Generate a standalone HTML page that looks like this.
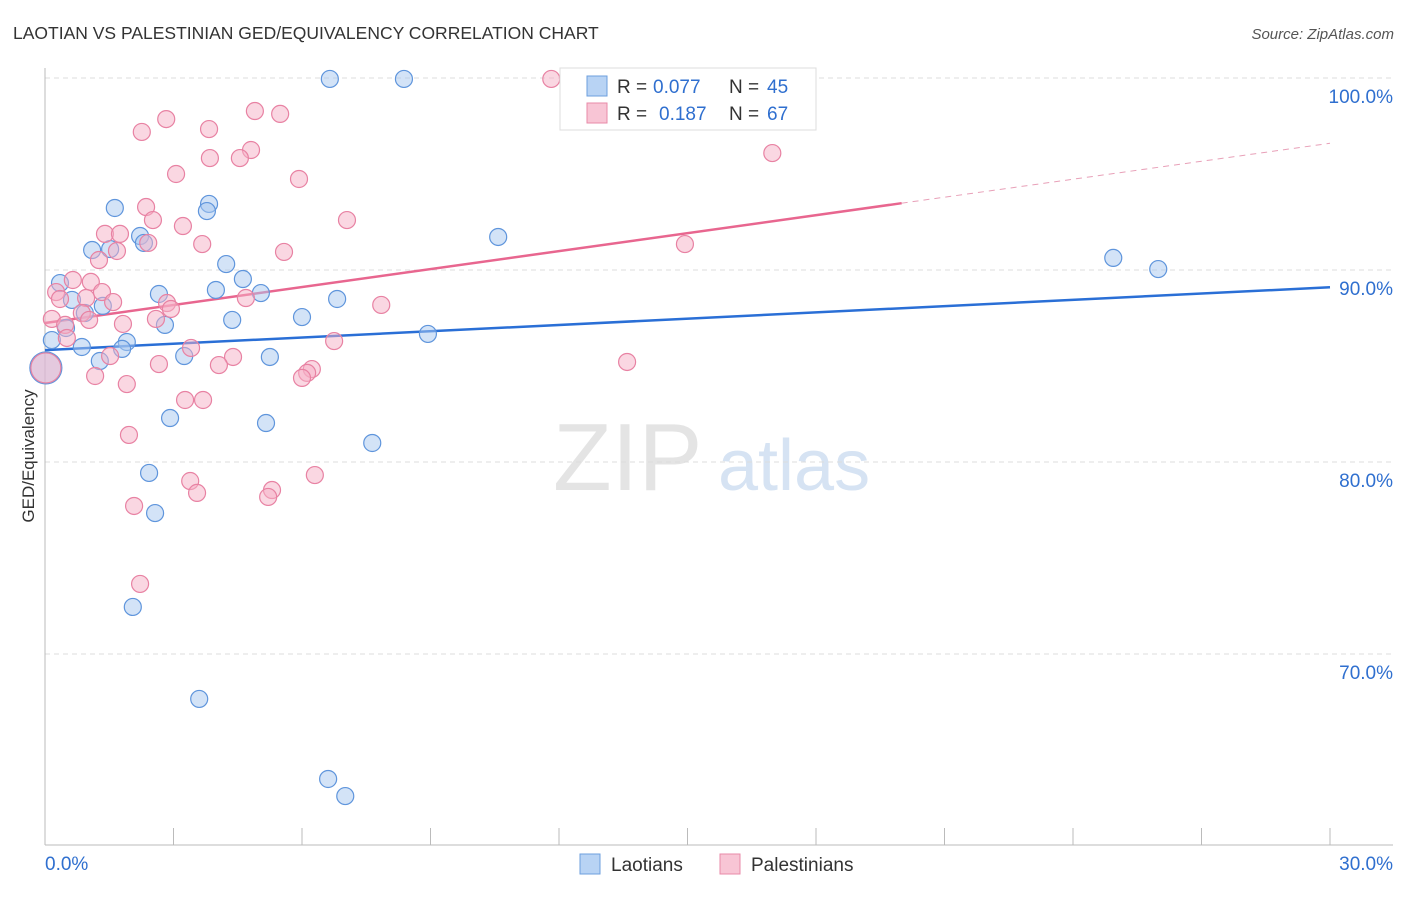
<!DOCTYPE html>
<html><head><meta charset="utf-8"><style>
body{margin:0;background:#fff;font-family:"Liberation Sans",sans-serif;}
svg text{font-family:"Liberation Sans",sans-serif;}
</style></head><body>
<svg id="chart" width="1406" height="892" xmlns="http://www.w3.org/2000/svg">
<text x="13" y="39" font-size="17.5" fill="#333">LAOTIAN VS PALESTINIAN GED/EQUIVALENCY CORRELATION CHART</text>
<text x="1394" y="39" font-size="15" fill="#555" text-anchor="end" font-style="italic">Source: ZipAtlas.com</text>
<text transform="translate(34,456) rotate(-90)" font-size="17" fill="#333" text-anchor="middle">GED/Equivalency</text>
<text x="553" y="490" font-size="96" fill="#e4e4e4" font-family="Liberation Serif">ZIP</text>
<text x="718" y="490" font-size="72" fill="#d6e3f3">atlas</text>
<g id="grid"></g><g id="axes"></g><g id="lines"></g><g id="dots"></g>
<g>
<rect x="560" y="68" width="256" height="62" fill="#fff" stroke="#ddd"/>
<rect x="587" y="76" width="20" height="20" fill="#b8d3f4" stroke="#6d9fde"/>
<rect x="587" y="103" width="20" height="20" fill="#f8c5d5" stroke="#e88aa8"/>
<text x="617" y="93" font-size="19" fill="#333">R =</text>
<text x="653" y="93" font-size="19" fill="#2f6fcf">0.077</text>
<text x="729" y="93" font-size="19" fill="#333">N =</text>
<text x="767" y="93" font-size="19" fill="#2f6fcf">45</text>
<text x="617" y="120" font-size="19" fill="#333">R =</text>
<text x="659" y="120" font-size="19" fill="#2f6fcf">0.187</text>
<text x="729" y="120" font-size="19" fill="#333">N =</text>
<text x="767" y="120" font-size="19" fill="#2f6fcf">67</text>
</g>
<g>
<rect x="580" y="854" width="20" height="20" fill="#b8d3f4" stroke="#6d9fde"/>
<text x="611" y="871" font-size="19" fill="#333">Laotians</text>
<rect x="720" y="854" width="20" height="20" fill="#f8c5d5" stroke="#e88aa8"/>
<text x="751" y="871" font-size="19" fill="#333">Palestinians</text>
</g>
</svg>
<script>
const yTicks=[100,90,80,70];
const yTickLabels=["100.0%","90.0%","80.0%","70.0%"];
const xTicks=[0,3,6,9,12,15,18,21,24,27,30];
const blueX=[6.65,8.38,1.63,3.83,3.78,2.22,2.31,1.10,1.52,10.58,4.23,4.62,0.35,3.99,2.66,5.04,0.63,1.35,0.93,6.82,6.00,4.37,2.80,0.49,0.16,8.94,0.86,1.91,1.80,3.25,5.25,1.28,0.02,2.92,5.16,7.64,2.43,2.57,2.05,3.60,6.61,7.01,24.94,25.99];
const blueY=[99.95,99.95,93.23,93.44,93.07,91.77,91.41,91.04,91.09,91.72,90.31,89.53,89.32,88.96,88.75,88.80,88.44,88.13,87.76,88.49,87.55,87.40,87.14,86.98,86.35,86.67,85.99,86.25,85.89,85.52,85.47,85.26,84.90,82.29,82.03,80.99,79.43,77.34,72.45,67.66,63.49,62.60,90.63,90.05];
const pinkX=[11.82,4.90,5.49,2.83,2.26,3.83,3.06,4.81,3.85,4.55,5.93,2.36,2.52,7.05,3.22,1.40,1.75,1.68,2.41,3.67,5.58,1.26,0.65,1.07,0.26,0.35,0.96,1.33,1.59,4.69,2.85,2.94,0.86,1.03,0.16,1.82,2.59,0.47,0.51,7.85,6.75,3.41,4.39,1.52,2.66,4.06,6.23,6.12,6.00,1.17,1.91,3.27,3.69,1.96,3.39,3.55,5.30,5.21,6.30,2.08,2.22,13.59,14.94,16.98,0.02];
const pinkY=[99.95,98.28,98.13,97.86,97.19,97.34,95.00,96.25,95.83,95.83,94.74,93.28,92.60,92.60,92.29,91.88,91.88,90.99,91.41,91.35,90.94,90.52,89.48,89.38,88.85,88.49,88.54,88.85,88.33,88.54,88.28,87.97,87.76,87.40,87.45,87.19,87.45,87.14,86.46,88.18,86.30,85.94,85.47,85.52,85.10,85.05,84.84,84.64,84.38,84.48,84.06,83.23,83.23,81.41,79.01,78.39,78.54,78.18,79.32,77.71,73.65,85.21,91.35,96.09,84.90];
const blueTrend=[85.83,89.1];
const pinkTrend=[87.24,96.6];
const pinkSolidEnd=20;
const NS="http://www.w3.org/2000/svg";
const X=v=>45+v/30*1285, Y=v=>78+(100-v)*19.2;
function mk(t,a,p){const e=document.createElementNS(NS,t);for(const k in a)e.setAttribute(k,a[k]);document.getElementById(p).appendChild(e);return e;}
yTicks.forEach((t,i)=>{
 const g=mk('line',{x1:45,x2:1393,y1:Y(t),y2:Y(t),stroke:'#dcdcdc','stroke-dasharray':'5,4'},'grid');
 
 
 const l=mk('text',{x:1393,y:Y(t)+25,'font-size':19,fill:'#2f6fcf','text-anchor':'end'},'grid');
 l.textContent=yTickLabels[i];
 
 
});
const ax=mk('line',{x1:45,x2:45,y1:68,y2:845,stroke:'#bbb'},'axes');


const bx=mk('line',{x1:45,x2:1393,y1:845,y2:845,stroke:'#bbb'},'axes');


xTicks.forEach(t=>{const e=mk('line',{x1:X(t),x2:X(t),y1:828,y2:845,stroke:'#bbb'},'axes');
 
 });
const x0=mk('text',{x:45,y:870,'font-size':19,fill:'#2f6fcf'},'axes');x0.textContent='0.0%';


const x1=mk('text',{x:1393,y:870,'font-size':19,fill:'#2f6fcf','text-anchor':'end'},'axes');x1.textContent='30.0%';


function dot(x,y,r,c){const e=mk('circle',{cx:X(x),cy:Y(y),r:r,fill:c[0],'fill-opacity':0.5,stroke:c[1],'stroke-width':1.2},'dots');return e;}
const B=['#a8c8f0','#5f95dc'],P=['#f5b0c6','#e882a3'];
blueX.forEach((x,i)=>{const e=dot(x,blueY[i],i==32?16:8.5,B);
 
 });
pinkX.forEach((x,i)=>{const e=dot(x,pinkY[i],i==64?15:8.5,P);
 
 });
const bl=mk('line',{x1:X(0),y1:Y(blueTrend[0]),x2:X(30),y2:Y(blueTrend[1]),stroke:'#2a6fd6','stroke-width':2.5},'lines');


const pm=pinkTrend[0]+(pinkTrend[1]-pinkTrend[0])*pinkSolidEnd/30;
const pl=mk('line',{x1:X(0),y1:Y(pinkTrend[0]),x2:X(pinkSolidEnd),y2:Y(pm),stroke:'#e8668f','stroke-width':2.5},'lines');


const pd=mk('line',{x1:X(pinkSolidEnd),y1:Y(pm),x2:X(30),y2:Y(pinkTrend[1]),stroke:'#e8a0b8','stroke-width':1,'stroke-dasharray':'6,5'},'lines');


</script>
</body></html>
